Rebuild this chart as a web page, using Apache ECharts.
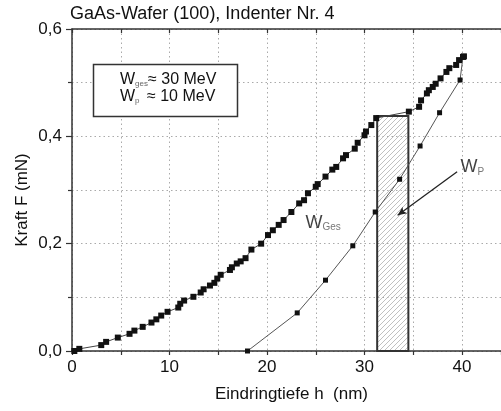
<!DOCTYPE html>
<html><head><meta charset="utf-8">
<script src="https://cdn.jsdelivr.net/npm/echarts@6/dist/echarts.min.js"></script>
<style>html,body{margin:0;padding:0;background:#fff}#c{width:501px;height:411px}</style>
</head><body><div id="c"></div>
<script>
const titleText = 'GaAs-Wafer (100), Indenter Nr. 4';
const xName = 'Eindringtiefe h  (nm)';
const yName = 'Kraft F (mN)';
const xTickLabels = ['0', '10', '20', '30', '40'];
const yTickLabels = ['0,0', '0,2', '0,4', '0,6'];

// loading curve (W_ges)
const loadH = [0.24, 0.75, 3.0, 3.5, 4.7, 5.9, 6.4, 7.25, 8.15, 8.65, 9.15, 9.8, 10.9, 11.1, 11.5, 12.45, 13.2, 13.5, 14.15, 14.6, 14.9, 15.25, 16.2, 16.4, 16.9, 17.3, 17.8, 18.4, 19.4, 20.1, 20.6, 21.2, 21.7, 22.5, 23.3, 23.8, 24.2, 25.0, 25.2, 26.0, 26.7, 27.1, 27.8, 28.1, 29.0, 29.3, 30.0, 30.15, 30.7, 31.2, 34.55, 35.6, 35.8, 36.4, 36.6, 37.0, 37.3, 37.8, 38.4, 38.7, 39.4, 39.7, 40.1, 40.2];
const loadF = [0.000, 0.004, 0.011, 0.017, 0.025, 0.032, 0.038, 0.045, 0.053, 0.059, 0.066, 0.073, 0.081, 0.088, 0.094, 0.101, 0.109, 0.115, 0.122, 0.127, 0.135, 0.142, 0.151, 0.156, 0.163, 0.167, 0.173, 0.189, 0.200, 0.216, 0.225, 0.235, 0.244, 0.259, 0.275, 0.281, 0.294, 0.306, 0.311, 0.325, 0.338, 0.343, 0.359, 0.365, 0.377, 0.388, 0.402, 0.409, 0.421, 0.434, 0.446, 0.455, 0.467, 0.480, 0.486, 0.492, 0.498, 0.508, 0.520, 0.527, 0.533, 0.542, 0.548, 0.549];

// unloading curve
const unloadH = [18.0, 23.1, 26.0, 28.8, 31.1, 33.6, 35.7, 37.7, 39.8, 40.1];
const unloadF = [0.000, 0.071, 0.132, 0.196, 0.259, 0.320, 0.382, 0.444, 0.505, 0.548];

// hold segment area (W_p)
const holdH = [31.3, 34.5];
const holdF = [0, 0.438];

// annotations
const arrowFrom = [39.5, 0.334];
const arrowTo = [33.4, 0.253];
const labelGesPos = [23.9, 0.239];
const labelPPos = [39.8, 0.342];

const FONT = '"Liberation Sans", Arial, sans-serif';

function hatchCanvas() {
  const c = document.createElement('canvas');
  c.width = 5; c.height = 5;
  const g = c.getContext('2d');
  g.strokeStyle = '#b0b0b0';
  g.lineWidth = 0.8;
  g.beginPath();
  g.moveTo(0, 5); g.lineTo(5, 0);
  g.moveTo(-1, 1); g.lineTo(1, -1);
  g.moveTo(4, 6); g.lineTo(6, 4);
  g.stroke();
  return c;
}
const pat = hatchCanvas();

const chart = echarts.init(document.getElementById('c'), null, {renderer: 'canvas'});
const zip = (a, b) => a.map((v, i) => [v, b[i]]);

const option = {
  animation: false,
  backgroundColor: '#fff',
  title: {
    text: titleText, left: 70, top: 5, padding: 0,
    textStyle: {fontFamily: FONT, fontSize: 18, fontWeight: 'normal', color: '#111'}
  },
  grid: {left: 72, right: 0, top: 29, bottom: 60, containLabel: false, outerBoundsMode: 'none'},
  xAxis: [{
    type: 'value', min: 0, max: 44, interval: 5,
    name: xName, nameLocation: 'middle', nameGap: 35,
    nameTextStyle: {fontFamily: FONT, fontSize: 17, color: '#111', padding: [0, 0, 0, 10]},
    axisLine: {show: true, onZero: false, lineStyle: {color: '#333', width: 1.5}},
    axisTick: {show: true, inside: false, length: 4, lineStyle: {color: '#333', width: 1.2}},
    axisLabel: {
      fontFamily: FONT, fontSize: 17, color: '#111', margin: 8,
      formatter: v => (Math.abs(v % 10) < 1e-9 ? xTickLabels[Math.round(v / 10)] : '')
    },
    splitLine: {show: true, lineStyle: {color: '#aaa', type: [1.5, 3], width: 1}}
  }, {
    type: 'value', min: 0, max: 44, interval: 5, position: 'top',
    axisLine: {show: true, onZero: false, lineStyle: {color: '#333', width: 1.5}},
    axisTick: {show: true, inside: true, length: 4, lineStyle: {color: '#333', width: 1.2}},
    axisLabel: {show: false},
    splitLine: {show: false}
  }],
  yAxis: {
    type: 'value', min: 0, max: 0.6, interval: 0.2,
    axisLine: {show: true, onZero: false, lineStyle: {color: '#333', width: 1.5}},
    axisTick: {show: true, inside: false, length: 6, lineStyle: {color: '#333', width: 1.2}},
    minorTick: {show: true, splitNumber: 2, length: 4, lineStyle: {color: '#333', width: 1.2}},
    axisLabel: {
      fontFamily: FONT, fontSize: 17, color: '#111', margin: 10,
      formatter: v => yTickLabels[Math.round(v / 0.2)]
    },
    splitLine: {show: true, lineStyle: {color: '#aaa', type: [1.5, 3], width: 1}},
    minorSplitLine: {show: true, lineStyle: {color: '#aaa', type: [1.5, 3], width: 1}}
  },
  graphic: [
    {
      type: 'text', x: 22, y: 200, rotation: Math.PI / 2,
      style: {text: yName, font: '17px ' + FONT, fill: '#111', align: 'center', verticalAlign: 'middle'}
    },
    {
      type: 'rect', shape: {x: 93.5, y: 64.5, width: 144, height: 52},
      style: {fill: '#fff', stroke: '#333', lineWidth: 1.5}, z: 100
    },
    {
      type: 'text', x: 120, y: 71, z: 101,
      style: {
        text: '{m|W}{s|ges}{m|≈ 30 MeV}\n{m|W}{p|p}{m| ≈ 10 MeV}',
        verticalAlign: 'top', align: 'left',
        rich: {
          m: {fontFamily: FONT, fontSize: 16, lineHeight: 17, fill: '#111', color: '#111'},
          s: {fontFamily: FONT, fontSize: 8, lineHeight: 1, verticalAlign: 'bottom', fill: '#666', color: '#666'},
          p: {fontFamily: FONT, fontSize: 8, lineHeight: 1, verticalAlign: 'bottom', fill: '#666', color: '#666', padding: [0, 3, 0, 0]}
        }
      }
    }
  ],
  series: [
    {
      type: 'custom', z: 1, silent: true,
      encode: {x: [0, 1], y: [2, 3]},
      data: [[holdH[0], holdH[1], holdF[0], holdF[1]]],
      renderItem: function (params, api) {
        const p0 = api.coord([api.value(0), api.value(3)]);
        const p1 = api.coord([api.value(1), api.value(2)]);
        return {
          type: 'rect',
          shape: {x: p0[0], y: p0[1], width: p1[0] - p0[0], height: p1[1] - p0[1]},
          style: {fill: {image: pat, repeat: 'repeat'}, stroke: '#333', lineWidth: 2}
        };
      }
    },
    {
      type: 'line', z: 3, data: zip(loadH, loadF),
      symbol: 'rect', symbolSize: 6, showSymbol: true,
      itemStyle: {color: '#111'},
      lineStyle: {color: '#444', width: 1}
    },
    {
      type: 'line', z: 3, data: zip(unloadH, unloadF),
      symbol: 'rect', symbolSize: 5, showSymbol: true,
      itemStyle: {color: '#111'},
      lineStyle: {color: '#555', width: 1},
      markLine: {
        silent: true, symbol: ['none', 'arrow'], symbolSize: [6, 9],
        label: {show: false},
        lineStyle: {color: '#222', width: 1.3, type: 'solid'},
        data: [[{coord: arrowFrom}, {coord: arrowTo}]]
      }
    },
    {
      type: 'scatter', z: 5, silent: true, symbolSize: 1,
      itemStyle: {color: 'rgba(0,0,0,0)'},
      label: {show: true, position: 'right', distance: 0},
      data: [
        {value: labelGesPos, label: {formatter: '{w|W}{s|Ges}'}},
        {value: labelPPos, label: {formatter: '{w|W}{s|P}'}}
      ],
      labelLayout: {hideOverlap: false},
      emphasis: {disabled: true}
    }
  ]
};
option.series[3].label.rich = {
  w: {fontFamily: FONT, fontSize: 18, lineHeight: 20, color: '#111'},
  s: {fontFamily: FONT, fontSize: 10, lineHeight: 6, verticalAlign: 'bottom', color: '#555'}
};
chart.setOption(option);
</script>
</body></html>
